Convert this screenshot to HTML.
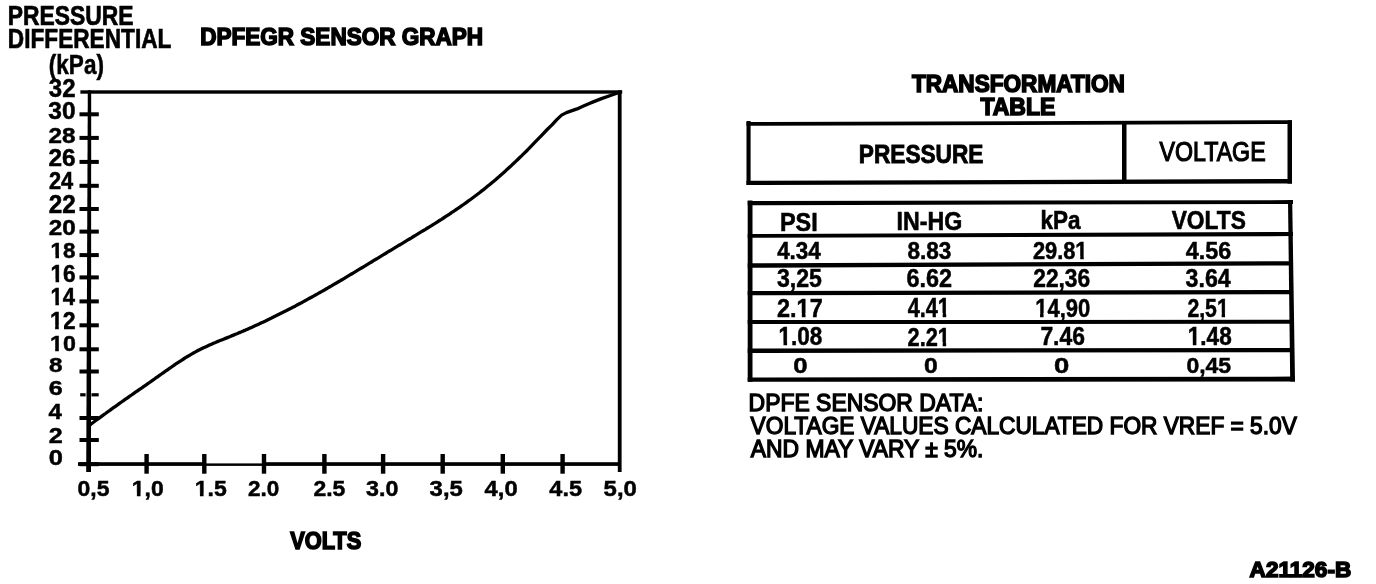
<!DOCTYPE html><html><head><meta charset="utf-8"><style>html,body{margin:0;padding:0;background:#fff;width:1376px;height:584px;overflow:hidden}svg{display:block;will-change:transform}text{font-family:"Liberation Sans",sans-serif;fill:#000}</style></head><body>
<svg width="1376" height="584" viewBox="0 0 1376 584">
<g fill="#000"><rect x="80.4" y="90.3" width="541.8" height="3.4"/><rect x="78.0" y="462.2" width="128.0" height="3.7"/><rect x="206.0" y="463.4" width="56.0" height="2.5"/><rect x="262.0" y="462.2" width="356.5" height="3.7"/><rect x="617.8" y="90.3" width="3.8" height="381.7"/><rect x="746.5" y="121.0" width="4.1" height="64.0"/><rect x="1287.5" y="120.3" width="4.5" height="63.3"/><rect x="1122.0" y="122.0" width="4.5" height="60.0"/><rect x="747.7" y="200.5" width="4.8" height="181.2"/><rect x="79.5" y="112.3" width="19.3" height="4.0"/><rect x="79.5" y="135.9" width="19.3" height="4.0"/><rect x="79.5" y="159.9" width="19.3" height="4.0"/><rect x="79.5" y="183.8" width="19.3" height="4.0"/><rect x="79.5" y="207.0" width="19.3" height="4.0"/><rect x="79.5" y="229.6" width="19.3" height="4.0"/><rect x="79.5" y="253.1" width="19.3" height="4.0"/><rect x="79.5" y="275.4" width="19.3" height="4.0"/><rect x="79.5" y="299.4" width="19.3" height="4.0"/><rect x="79.5" y="323.3" width="19.3" height="4.0"/><rect x="79.5" y="347.3" width="19.3" height="4.0"/><rect x="79.5" y="369.5" width="19.3" height="4.0"/><rect x="79.5" y="416.0" width="19.3" height="4.0"/><rect x="79.5" y="438.0" width="19.3" height="4.0"/><rect x="79.5" y="462.2" width="19.3" height="4.0"/><rect x="80.2" y="393.2" width="5.4" height="3.2"/><rect x="91.5" y="393.2" width="7.2" height="3.2"/><rect x="144.4" y="454.0" width="4.4" height="19.7"/><rect x="202.1" y="454.0" width="4.4" height="19.7"/><rect x="261.8" y="454.0" width="4.4" height="19.7"/><rect x="322.2" y="454.0" width="4.4" height="19.7"/><rect x="380.9" y="454.0" width="4.4" height="19.7"/><rect x="440.5" y="454.0" width="4.4" height="19.7"/><rect x="500.6" y="454.0" width="4.4" height="19.7"/><rect x="560.4" y="454.0" width="4.4" height="19.7"/><polygon points="746.5,122 1292,120.3 1292,124 746.5,125.8"/><polygon points="746.5,180.8 1292,179 1292,183.4 746.5,185"/><polygon points="747.7,201 1293,200.1 1293,203.9 747.7,205.3"/><polygon points="747.7,234 1293,232 1293,236.1 747.7,237.8"/><polygon points="747.7,263.2 1293,261.2 1293,265.4 747.7,267.8"/><polygon points="747.7,291 1293,290 1293,294.2 747.7,295.3"/><polygon points="747.7,320.1 1293,319.8 1293,323.8 747.7,324"/><polygon points="747.7,348.5 1293,348.1 1293,352.2 747.7,353"/><polygon points="747.7,377.5 1295,376.6 1295,381.6 747.7,381.7"/><polygon points="87.8,90.3 91.2,90.3 91,472 86.2,472"/><polygon points="1288,200.1 1292.2,200.1 1295,381.6 1290.2,381.6"/></g>
<polyline points="89.5,425.4 91.5,423.8 93.5,422.3 95.5,420.8 97.5,419.3 99.5,417.9 101.5,416.4 103.5,414.9 105.5,413.5 107.5,412.0 109.5,410.6 111.5,409.1 113.5,407.7 115.5,406.3 117.5,404.9 119.5,403.4 121.5,402.0 123.5,400.6 125.5,399.2 127.5,397.8 129.5,396.4 131.5,395.0 133.5,393.6 135.5,392.2 137.5,390.8 139.5,389.4 141.5,388.1 143.5,386.7 145.5,385.3 147.5,383.9 149.5,382.5 151.5,381.1 153.5,379.7 155.5,378.2 157.5,376.8 159.5,375.4 161.5,374.0 163.5,372.6 165.5,371.2 167.5,369.8 169.5,368.4 171.5,367.0 173.5,365.6 175.5,364.2 177.5,362.9 179.5,361.6 181.5,360.3 183.5,359.0 185.5,357.7 187.5,356.5 189.5,355.3 191.5,354.1 193.5,353.0 195.5,351.9 197.5,350.8 199.5,349.8 201.5,348.8 203.5,347.8 205.5,346.9 207.5,346.0 209.5,345.1 211.5,344.2 213.5,343.3 215.5,342.5 217.5,341.6 219.5,340.8 221.5,340.0 223.5,339.2 225.5,338.4 227.5,337.6 229.5,336.8 231.5,335.9 233.5,335.1 235.5,334.3 237.5,333.5 239.5,332.6 241.5,331.8 243.5,330.9 245.5,330.1 247.5,329.2 249.5,328.3 251.5,327.4 253.5,326.5 255.5,325.6 257.5,324.7 259.5,323.8 261.5,322.8 263.5,321.9 265.5,321.0 267.5,320.0 269.5,319.0 271.5,318.1 273.5,317.1 275.5,316.1 277.5,315.1 279.5,314.1 281.5,313.1 283.5,312.1 285.5,311.1 287.5,310.0 289.5,309.0 291.5,308.0 293.5,306.9 295.5,305.9 297.5,304.8 299.5,303.7 301.5,302.7 303.5,301.6 305.5,300.5 307.5,299.4 309.5,298.3 311.5,297.2 313.5,296.1 315.5,295.0 317.5,293.9 319.5,292.7 321.5,291.6 323.5,290.5 325.5,289.3 327.5,288.2 329.5,287.0 331.5,285.9 333.5,284.7 335.5,283.5 337.5,282.3 339.5,281.2 341.5,280.0 343.5,278.8 345.5,277.6 347.5,276.4 349.5,275.2 351.5,274.0 353.5,272.8 355.5,271.6 357.5,270.4 359.5,269.2 361.5,268.0 363.5,266.8 365.5,265.6 367.5,264.4 369.5,263.2 371.5,262.0 373.5,260.7 375.5,259.5 377.5,258.3 379.5,257.1 381.5,255.9 383.5,254.7 385.5,253.5 387.5,252.2 389.5,251.0 391.5,249.8 393.5,248.6 395.5,247.4 397.5,246.2 399.5,245.0 401.5,243.8 403.5,242.6 405.5,241.4 407.5,240.2 409.5,239.0 411.5,237.8 413.5,236.5 415.5,235.3 417.5,234.1 419.5,232.9 421.5,231.7 423.5,230.5 425.5,229.3 427.5,228.0 429.5,226.8 431.5,225.6 433.5,224.3 435.5,223.1 437.5,221.8 439.5,220.5 441.5,219.3 443.5,218.0 445.5,216.7 447.5,215.4 449.5,214.1 451.5,212.7 453.5,211.4 455.5,210.0 457.5,208.7 459.5,207.3 461.5,205.9 463.5,204.5 465.5,203.1 467.5,201.6 469.5,200.2 471.5,198.7 473.5,197.2 475.5,195.7 477.5,194.2 479.5,192.7 481.5,191.1 483.5,189.6 485.5,188.0 487.5,186.3 489.5,184.7 491.5,183.1 493.5,181.4 495.5,179.7 497.5,177.9 499.5,176.2 501.5,174.4 503.5,172.7 505.5,170.9 507.5,169.0 509.5,167.2 511.5,165.4 513.5,163.5 515.5,161.6 517.5,159.7 519.5,157.8 521.5,155.9 523.5,153.9 525.5,152.0 527.5,150.0 530,147.3 536,141.2 541.9,135.1 547.2,129.5 552,124.9 556.8,119.6 561.6,115.1 566.4,112.6 571.3,110.9 577.1,108.9 582.9,106.3 587.6,104.2 593.2,101.9 601.5,98.6 609.7,95.7 619,92.5" fill="none" stroke="#000" stroke-width="3.3" stroke-linejoin="round"/>
<text id="t1" x="7.80" y="25.10" font-size="26.83" font-weight="bold" textLength="125.73" lengthAdjust="spacingAndGlyphs" stroke="#000" stroke-width="0.7">PRESSURE</text>
<text id="t2" x="7.80" y="47.80" font-size="28.29" font-weight="bold" textLength="163.64" lengthAdjust="spacingAndGlyphs" stroke="#000" stroke-width="0.7">DIFFERENTIAL</text>
<text id="t3" x="200.20" y="44.66" font-size="24.62" font-weight="bold" textLength="282.94" lengthAdjust="spacingAndGlyphs" stroke="#000" stroke-width="1.6">DPFEGR SENSOR GRAPH</text>
<text id="t4" x="48.84" y="73.70" font-size="26.81" font-weight="bold" textLength="55.10" lengthAdjust="spacingAndGlyphs" stroke="#000" stroke-width="0.5">(kPa)</text>
<text id="xv" x="290.14" y="548.84" font-size="24.54" font-weight="bold" textLength="71.13" lengthAdjust="spacingAndGlyphs" stroke="#000" stroke-width="1.6">VOLTS</text>
<text id="tt1" x="911.92" y="91.68" font-size="23.77" font-weight="bold" textLength="212.95" lengthAdjust="spacingAndGlyphs" stroke="#000" stroke-width="1.6">TRANSFORMATION</text>
<text id="tt2" x="980.40" y="115.20" font-size="24.57" font-weight="bold" textLength="74.98" lengthAdjust="spacingAndGlyphs" stroke="#000" stroke-width="1.6">TABLE</text>
<text id="hp" x="858.80" y="162.86" font-size="26.56" font-weight="bold" textLength="124.65" lengthAdjust="spacingAndGlyphs" stroke="#000" stroke-width="0.9">PRESSURE</text>
<text id="hv" x="1159.60" y="160.86" font-size="26.93" font-weight="normal" textLength="106.00" lengthAdjust="spacingAndGlyphs" stroke="#000" stroke-width="1.2">VOLTAGE</text>
<text id="c0" x="779.96" y="230.92" font-size="26.31" font-weight="bold" textLength="37.76" lengthAdjust="spacingAndGlyphs" stroke="#000" stroke-width="0.6">PSI</text>
<text id="c1" x="896.60" y="230.08" font-size="25.15" font-weight="bold" textLength="65.70" lengthAdjust="spacingAndGlyphs" stroke="#000" stroke-width="0.6">IN-HG</text>
<text id="c2" x="1040.60" y="229.42" font-size="25.33" font-weight="bold" textLength="39.97" lengthAdjust="spacingAndGlyphs" stroke="#000" stroke-width="0.6">kPa</text>
<text id="c3" x="1171.68" y="229.24" font-size="25.64" font-weight="bold" textLength="74.19" lengthAdjust="spacingAndGlyphs" stroke="#000" stroke-width="0.6">VOLTS</text>
<text id="n1" x="748.62" y="411.22" font-size="23.34" font-weight="normal" textLength="234.77" lengthAdjust="spacingAndGlyphs" stroke="#000" stroke-width="1.35">DPFE SENSOR DATA:</text>
<text id="n2" x="750.62" y="433.54" font-size="23.75" font-weight="normal" textLength="546.19" lengthAdjust="spacingAndGlyphs" stroke="#000" stroke-width="1.35">VOLTAGE VALUES CALCULATED FOR VREF = 5.0V</text>
<text id="n3" x="750.82" y="456.88" font-size="23.34" font-weight="normal" textLength="232.62" lengthAdjust="spacingAndGlyphs" stroke="#000" stroke-width="1.35">AND MAY VARY ± 5%.</text>
<text id="ref" x="1249.60" y="576.66" font-size="22.72" font-weight="bold" textLength="101.65" lengthAdjust="spacingAndGlyphs" stroke="#000" stroke-width="1.6">A21126-B</text>
<text id="y0" x="48.78" y="97.10" font-size="26.34" font-weight="bold" textLength="26.73" lengthAdjust="spacingAndGlyphs" stroke="#000" stroke-width="0.5">32</text>
<text id="y1" x="48.30" y="119.26" font-size="23.45" font-weight="bold" textLength="27.23" lengthAdjust="spacingAndGlyphs" stroke="#000" stroke-width="0.5">30</text>
<text id="y2" x="48.56" y="143.08" font-size="22.03" font-weight="bold" textLength="26.99" lengthAdjust="spacingAndGlyphs" stroke="#000" stroke-width="0.5">28</text>
<text id="y3" x="48.56" y="166.26" font-size="24.18" font-weight="bold" textLength="27.16" lengthAdjust="spacingAndGlyphs" stroke="#000" stroke-width="0.5">26</text>
<text id="y4" x="48.92" y="188.96" font-size="23.15" font-weight="bold" textLength="24.28" lengthAdjust="spacingAndGlyphs" stroke="#000" stroke-width="0.5">24</text>
<text id="y5" x="48.72" y="212.64" font-size="25.16" font-weight="bold" textLength="26.97" lengthAdjust="spacingAndGlyphs" stroke="#000" stroke-width="0.5">22</text>
<text id="y6" x="48.72" y="234.92" font-size="22.86" font-weight="bold" textLength="26.97" lengthAdjust="spacingAndGlyphs" stroke="#000" stroke-width="0.5">20</text>
<text id="y7" x="50.48" y="258.40" font-size="22.06" font-weight="bold" textLength="24.87" lengthAdjust="spacingAndGlyphs" stroke="#000" stroke-width="0.5">18</text>
<text id="y8" x="50.48" y="281.90" font-size="23.75" font-weight="bold" textLength="25.19" lengthAdjust="spacingAndGlyphs" stroke="#000" stroke-width="0.5">16</text>
<text id="y9" x="50.48" y="305.46" font-size="23.48" font-weight="bold" textLength="24.51" lengthAdjust="spacingAndGlyphs" stroke="#000" stroke-width="0.5">14</text>
<text id="y10" x="49.98" y="328.78" font-size="24.29" font-weight="bold" textLength="25.67" lengthAdjust="spacingAndGlyphs" stroke="#000" stroke-width="0.5">12</text>
<text id="y11" x="49.98" y="350.92" font-size="22.89" font-weight="bold" textLength="25.84" lengthAdjust="spacingAndGlyphs" stroke="#000" stroke-width="0.5">10</text>
<text id="y12" x="48.92" y="372.24" font-size="20.89" font-weight="bold" textLength="13.53" lengthAdjust="spacingAndGlyphs" stroke="#000" stroke-width="0.5">8</text>
<text id="y13" x="48.72" y="395.42" font-size="20.89" font-weight="bold" textLength="13.94" lengthAdjust="spacingAndGlyphs" stroke="#000" stroke-width="0.5">6</text>
<text id="y14" x="48.48" y="418.80" font-size="22.86" font-weight="bold" textLength="13.33" lengthAdjust="spacingAndGlyphs" stroke="#000" stroke-width="0.5">4</text>
<text id="y15" x="48.72" y="442.96" font-size="21.86" font-weight="bold" textLength="13.94" lengthAdjust="spacingAndGlyphs" stroke="#000" stroke-width="0.5">2</text>
<text id="y16" x="48.72" y="464.60" font-size="22.03" font-weight="bold" textLength="14.16" lengthAdjust="spacingAndGlyphs" stroke="#000" stroke-width="0.5">0</text>
<text id="x0" x="77.56" y="496.24" font-size="22.48" font-weight="bold" textLength="31.89" lengthAdjust="spacingAndGlyphs" stroke="#000" stroke-width="0.5">0,5</text>
<text id="x1" x="131.80" y="496.24" font-size="22.51" font-weight="bold" textLength="31.84" lengthAdjust="spacingAndGlyphs" stroke="#000" stroke-width="0.5">1,0</text>
<text id="x2" x="194.80" y="496.24" font-size="22.81" font-weight="bold" textLength="31.99" lengthAdjust="spacingAndGlyphs" stroke="#000" stroke-width="0.5">1.5</text>
<text id="x3" x="247.90" y="496.24" font-size="22.48" font-weight="bold" textLength="31.27" lengthAdjust="spacingAndGlyphs" stroke="#000" stroke-width="0.5">2.0</text>
<text id="x4" x="313.40" y="496.24" font-size="22.48" font-weight="bold" textLength="31.90" lengthAdjust="spacingAndGlyphs" stroke="#000" stroke-width="0.5">2.5</text>
<text id="x5" x="366.12" y="496.24" font-size="22.47" font-weight="bold" textLength="32.29" lengthAdjust="spacingAndGlyphs" stroke="#000" stroke-width="0.5">3.0</text>
<text id="x6" x="429.64" y="496.24" font-size="22.47" font-weight="bold" textLength="33.20" lengthAdjust="spacingAndGlyphs" stroke="#000" stroke-width="0.5">3,5</text>
<text id="x7" x="484.64" y="496.24" font-size="22.48" font-weight="bold" textLength="33.07" lengthAdjust="spacingAndGlyphs" stroke="#000" stroke-width="0.5">4,0</text>
<text id="x8" x="549.32" y="496.24" font-size="22.76" font-weight="bold" textLength="32.68" lengthAdjust="spacingAndGlyphs" stroke="#000" stroke-width="0.5">4.5</text>
<text id="x9" x="603.60" y="496.24" font-size="22.48" font-weight="bold" textLength="33.26" lengthAdjust="spacingAndGlyphs" stroke="#000" stroke-width="0.5">5,0</text>
<text id="d00" x="777.14" y="259.10" font-size="23.98" font-weight="bold" textLength="43.68" lengthAdjust="spacingAndGlyphs" stroke="#000" stroke-width="0.5">4.34</text>
<text id="d01" x="907.44" y="259.10" font-size="23.98" font-weight="bold" textLength="43.95" lengthAdjust="spacingAndGlyphs" stroke="#000" stroke-width="0.5">8.83</text>
<text id="d02" x="1032.92" y="258.90" font-size="23.99" font-weight="bold" textLength="54.61" lengthAdjust="spacingAndGlyphs" stroke="#000" stroke-width="0.5">29.81</text>
<text id="d03" x="1185.80" y="259.10" font-size="23.97" font-weight="bold" textLength="45.46" lengthAdjust="spacingAndGlyphs" stroke="#000" stroke-width="0.5">4.56</text>
<text id="d10" x="776.94" y="287.42" font-size="24.89" font-weight="bold" textLength="44.99" lengthAdjust="spacingAndGlyphs" stroke="#000" stroke-width="0.5">3,25</text>
<text id="d11" x="906.56" y="287.42" font-size="24.89" font-weight="bold" textLength="45.53" lengthAdjust="spacingAndGlyphs" stroke="#000" stroke-width="0.5">6.62</text>
<text id="d12" x="1033.24" y="287.42" font-size="24.89" font-weight="bold" textLength="56.91" lengthAdjust="spacingAndGlyphs" stroke="#000" stroke-width="0.5">22,36</text>
<text id="d13" x="1185.60" y="287.42" font-size="24.89" font-weight="bold" textLength="45.05" lengthAdjust="spacingAndGlyphs" stroke="#000" stroke-width="0.5">3.64</text>
<text id="d20" x="777.06" y="317.14" font-size="26.63" font-weight="bold" textLength="45.63" lengthAdjust="spacingAndGlyphs" stroke="#000" stroke-width="0.5">2.17</text>
<text id="d21" x="907.64" y="317.14" font-size="27.22" font-weight="bold" textLength="42.35" lengthAdjust="spacingAndGlyphs" stroke="#000" stroke-width="0.5">4.41</text>
<text id="d22" x="1035.14" y="316.74" font-size="26.37" font-weight="bold" textLength="55.13" lengthAdjust="spacingAndGlyphs" stroke="#000" stroke-width="0.5">14,90</text>
<text id="d23" x="1187.40" y="316.74" font-size="26.37" font-weight="bold" textLength="41.36" lengthAdjust="spacingAndGlyphs" stroke="#000" stroke-width="0.5">2,51</text>
<text id="d30" x="778.48" y="345.42" font-size="25.46" font-weight="bold" textLength="43.90" lengthAdjust="spacingAndGlyphs" stroke="#000" stroke-width="0.5">1.08</text>
<text id="d31" x="907.56" y="345.62" font-size="25.74" font-weight="bold" textLength="42.40" lengthAdjust="spacingAndGlyphs" stroke="#000" stroke-width="0.5">2.21</text>
<text id="d32" x="1040.38" y="345.42" font-size="25.43" font-weight="bold" textLength="44.52" lengthAdjust="spacingAndGlyphs" stroke="#000" stroke-width="0.5">7.46</text>
<text id="d33" x="1187.80" y="345.42" font-size="25.46" font-weight="bold" textLength="43.88" lengthAdjust="spacingAndGlyphs" stroke="#000" stroke-width="0.5">1.48</text>
<text id="d40" x="793.20" y="372.92" font-size="22.31" font-weight="bold" textLength="14.32" lengthAdjust="spacingAndGlyphs" stroke="#000" stroke-width="0.5">0</text>
<text id="d41" x="924.04" y="372.92" font-size="22.31" font-weight="bold" textLength="13.74" lengthAdjust="spacingAndGlyphs" stroke="#000" stroke-width="0.5">0</text>
<text id="d42" x="1054.04" y="372.92" font-size="22.31" font-weight="bold" textLength="15.28" lengthAdjust="spacingAndGlyphs" stroke="#000" stroke-width="0.5">0</text>
<text id="d43" x="1186.40" y="372.92" font-size="22.31" font-weight="bold" textLength="44.78" lengthAdjust="spacingAndGlyphs" stroke="#000" stroke-width="0.5">0,45</text>
<g fill="#fff"><rect x="50" y="255" width="5.45" height="5"/><rect x="59.02" y="255" width="4.98" height="5"/><rect x="50" y="279" width="5.52" height="4"/><rect x="59.13" y="279" width="4.87" height="4"/><rect x="50" y="302" width="5.38" height="5"/><rect x="58.9" y="302" width="5.1" height="5"/><rect x="50" y="325" width="5.12" height="5"/><rect x="58.79" y="325" width="5.21" height="5"/><rect x="50" y="348" width="5.16" height="4"/><rect x="58.84" y="348" width="5.16" height="4"/><rect x="132" y="493" width="4.9" height="5"/><rect x="140.54" y="493" width="4.46" height="5"/><rect x="195" y="493" width="4.92" height="5"/><rect x="203.58" y="493" width="4.42" height="5"/><rect x="1075" y="256" width="5.23" height="4"/><rect x="1083.73" y="256" width="4.27" height="4"/><rect x="797" y="313" width="4.83" height="6"/><rect x="805.55" y="313" width="4.45" height="6"/><rect x="938" y="313" width="4.71" height="6"/><rect x="946.2" y="313" width="4.8" height="6"/><rect x="1035" y="313" width="5.04" height="5"/><rect x="1043.56" y="313" width="4.44" height="5"/><rect x="1217" y="313" width="4.65" height="5"/><rect x="1225.06" y="313" width="4.94" height="5"/><rect x="778" y="342" width="5.49" height="5"/><rect x="787.09" y="342" width="4.91" height="5"/><rect x="938" y="342" width="4.67" height="5"/><rect x="946.16" y="342" width="4.84" height="5"/><rect x="1188" y="342" width="4.81" height="5"/><rect x="1196.4" y="342" width="4.6" height="5"/></g>
</svg></body></html>
